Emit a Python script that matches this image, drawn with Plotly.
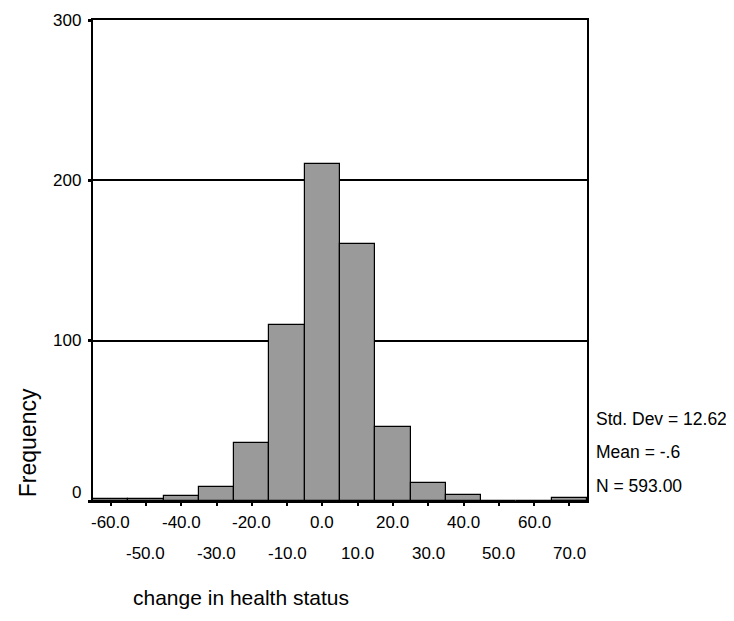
import plotly.graph_objects as go

# Data
bin_centers = [-60, -50, -40, -30, -20, -10, 0, 10, 20, 30, 40, 50, 60, 70]
frequencies = [1, 1, 3, 9, 36, 110, 210, 160, 46, 11, 4, 0, 0, 2]
bin_width = 10

x_tick_vals = [-60, -50, -40, -30, -20, -10, 0, 10, 20, 30, 40, 50, 60, 70]
x_tick_text = ["-60.0", "-50.0", "-40.0", "-30.0", "-20.0", "-10.0", "0.0",
               "10.0", "20.0", "30.0", "40.0", "50.0", "60.0", "70.0"]
y_tick_vals = [0, 100, 200, 300]
y_tick_text = ["0", "100", "200", "300"]

stats_lines = ["Std. Dev = 12.62", "Mean = -.6", "N = 593.00"]
x_title = "change in health status"
y_title = "Frequency"

FONT = "Liberation Sans, Arial, sans-serif"

# page layout (the page body adds an 8px margin on every side)
OFF = 8
PX_L, PX_R, PX_T, PX_B = 93, 587, 18, 501   # plot area on the page
W, H = 734 - OFF, 621 - 2 * OFF
L, T = PX_L - OFF, PX_T - OFF
R, B = OFF + W - PX_R, OFF + H - PX_B


def px_to_paper(px, py):
    return (px - PX_L) / (PX_R - PX_L), (PX_B - py) / (PX_B - PX_T)


fig = go.Figure()
fig.add_trace(go.Bar(
    x=bin_centers,
    y=frequencies,
    width=[bin_width] * len(bin_centers),
    marker=dict(color="#9a9a9a", line=dict(color="black", width=1.2)),
    hoverinfo="x+y",
))

annotations = []
# staggered x tick labels
for i, (v, t) in enumerate(zip(x_tick_vals, x_tick_text)):
    row = i % 2
    annotations.append(dict(
        x=v, xref="x", y=0, yref="paper",
        text=t, showarrow=False,
        xanchor="center", yanchor="middle",
        yshift=-21 if row == 0 else -52,
        font=dict(family=FONT, size=17, color="black"),
    ))

# y tick labels (SPSS lifts the "0" label above the axis line)
for v, t in zip(y_tick_vals, y_tick_text):
    annotations.append(dict(
        x=0, xref="paper", xanchor="right", xshift=-10,
        y=v, yref="y", yanchor="middle",
        yshift=9 if v == 0 else 0,
        text=t, showarrow=False,
        font=dict(family=FONT, size=17, color="black"),
    ))

# stats text at right
stat_y_px = [419, 452, 486]
for line, ypx in zip(stats_lines, stat_y_px):
    ax, ay = px_to_paper(594, ypx)
    annotations.append(dict(
        x=ax, xref="paper", xanchor="left",
        y=ay, yref="paper", yanchor="middle",
        text=line, showarrow=False,
        font=dict(family=FONT, size=17.5, color="black"),
    ))

# axis titles
ax, ay = px_to_paper(28, 443)
annotations.append(dict(
    x=ax, xref="paper", xanchor="center",
    y=ay, yref="paper", yanchor="middle",
    text=y_title, textangle=-90, showarrow=False,
    font=dict(family=FONT, size=23, color="black"),
))
ax, ay = px_to_paper(131, 598)
annotations.append(dict(
    x=ax, xref="paper", xanchor="left",
    y=ay, yref="paper", yanchor="middle",
    text=x_title, showarrow=False,
    font=dict(family=FONT, size=21, color="black"),
))

fig.update_layout(
    width=W, height=H, autosize=False,
    margin=dict(l=L, r=R, t=T, b=B, pad=0),
    plot_bgcolor="white", paper_bgcolor="white",
    bargap=0,
    showlegend=False,
    font=dict(family=FONT, size=17, color="black"),
    xaxis=dict(
        range=[-65, 75],
        tickvals=x_tick_vals,
        ticktext=[""] * len(x_tick_vals),
        ticks="outside", ticklen=3, tickwidth=2, tickcolor="black",
        showgrid=False, zeroline=False,
        showline=True, linecolor="black", linewidth=2, mirror=True,
    ),
    yaxis=dict(
        range=[0, 300],
        tickvals=y_tick_vals,
        ticktext=[""] * len(y_tick_vals),
        ticks="outside", ticklen=3, tickwidth=3, tickcolor="black",
        showgrid=True, gridcolor="black", gridwidth=1.5,
        zeroline=False,
        showline=True, linecolor="black", linewidth=1.5, mirror=True,
    ),
    annotations=annotations,
)

fig.write_html("out.html")
